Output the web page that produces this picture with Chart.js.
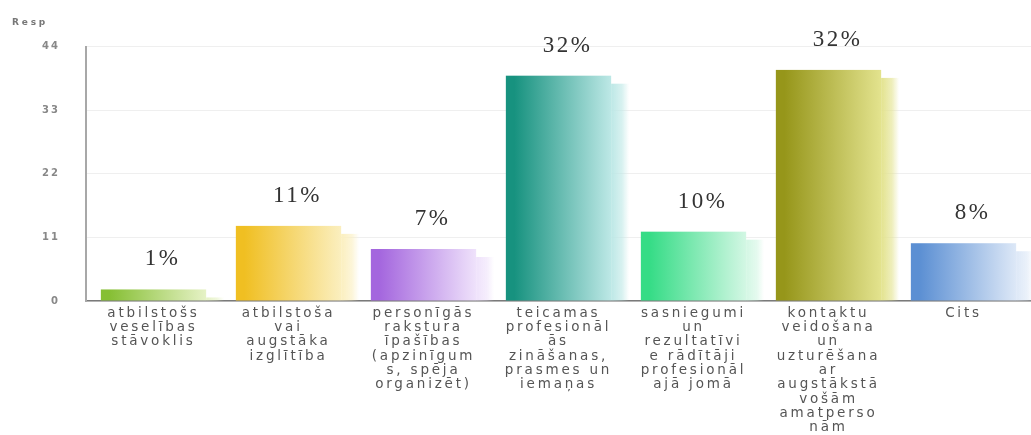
<!DOCTYPE html>
<html>
<head>
<meta charset="utf-8">
<script src="https://cdn.jsdelivr.net/npm/chart.js@4/dist/chart.umd.min.js"></script>
<style>
  html, body { margin: 0; padding: 0; background: #fff; }
  #wrap { width: 1031px; height: 435px; }
</style>
</head>
<body>
<div id="wrap"><canvas id="my-chart"></canvas></div>
<script>
// answers, one label per option (already split into lines)
const categories = [
    ['atbilstošs', 'veselības', 'stāvoklis'],
    ['atbilstoša', 'vai', 'augstāka', 'izglītība'],
    ['personīgās', 'rakstura', 'īpašības', '(apzinīgum', 's, spēja', 'organizēt)'],
    ['teicamas', 'profesionāl', 'ās', 'zināšanas,', 'prasmes un', 'iemaņas'],
    ['sasniegumi', 'un', 'rezultatīvi', 'e rādītāji', 'profesionāl', 'ajā jomā'],
    ['kontaktu', 'veidošana', 'un', 'uzturēšana', 'ar', 'augstākstā', 'vošām', 'amatperso', 'nām'],
    ['Cits']
];
// number of respondents per answer
const responses = [2, 13, 9, 39, 12, 40, 10];
// share written above each bar
const shares = ['1%', '11%', '7%', '32%', '10%', '32%', '8%'];
const yTicks = [0, 11, 22, 33, 44];

// left (dark) and right (light) colour of each bar face
const darkColors = ['#86bf34', '#f0bf22', '#a466de', '#17927f', '#35dc86', '#96961a', '#5b8fd3'];
const lightColors = ['#e6f2c6', '#fbefbf', '#efe2fb', '#bde8e6', '#d3f7e4', '#e3e38e', '#dde8f7'];

// spaced-out lettering for the category labels and title,
// tighter for the value axis (its labels are drawn in a later layer)
const spacing = {
    id: 'spacing',
    beforeDraw(chart) {
        chart.ctx.letterSpacing = '2.8px';
    },
    beforeDatasetsDraw(chart) {
        chart.ctx.letterSpacing = '0px';
    },
    afterDatasetsDraw(chart) {
        chart.ctx.letterSpacing = '2px';
    }
};

function rgba(hex, a) {
    const n = parseInt(hex.slice(1), 16);
    return 'rgba(' + (n >> 16) + ',' + ((n >> 8) & 255) + ',' + (n & 255) + ',' + a + ')';
}

// gradient bar faces with a soft fading side on the right
const glossBars = {
    id: 'glossBars',
    afterDatasetsDraw(chart) {
        const ctx = chart.ctx;
        const meta = chart.getDatasetMeta(0);
        ctx.save();
        meta.data.forEach((bar, i) => {
            const left = bar.x - bar.width / 2;
            const right = bar.x + bar.width / 2;
            const top = bar.y;
            const base = bar.base;

            // side shade
            const sideW = bar.width * 0.17;
            const sideTop = Math.min(top + 8, base);
            const sg = ctx.createLinearGradient(right, 0, right + sideW, 0);
            sg.addColorStop(0, rgba(lightColors[i], 1));
            sg.addColorStop(0.6, rgba(lightColors[i], 0.6));
            sg.addColorStop(1, rgba(lightColors[i], 0));
            ctx.fillStyle = sg;
            ctx.fillRect(right, sideTop, sideW, base - sideTop);

            // face
            const g = ctx.createLinearGradient(left, 0, right, 0);
            g.addColorStop(0, darkColors[i]);
            g.addColorStop(0.08, darkColors[i]);
            g.addColorStop(1, lightColors[i]);
            ctx.fillStyle = g;
            ctx.fillRect(left, top, right - left, base - top);
        });

        // share labels
        ctx.letterSpacing = '2.5px';
        ctx.font = '23px "Liberation Serif", "Times New Roman", serif';
        ctx.fillStyle = '#333';
        ctx.textAlign = 'center';
        ctx.textBaseline = 'middle';
        meta.data.forEach((bar, i) => {
            ctx.fillText(shares[i], bar.x + 9, bar.y - 30);
        });
        ctx.restore();
    }
};

const data = {
    labels: categories,
    datasets: [{
        label: 'Resp',
        data: responses,
        backgroundColor: 'rgba(0,0,0,0)',
        borderWidth: 0,
        categoryPercentage: 1,
        barPercentage: 0.78
    }]
};

const config = {
    type: 'bar',
    data: data,
    plugins: [glossBars, spacing],
    options: {
        responsive: true,
        maintainAspectRatio: false,
        animation: false,
        events: [],
        layout: { padding: { left: 12, right: 0, top: 0, bottom: 0 } },
        plugins: {
            legend: { display: false },
            tooltip: { enabled: false },
            title: {
                display: true,
                text: 'Resp',
                align: 'start',
                color: '#777',
                font: { family: 'DejaVu Sans', size: 9 },
                padding: { top: 17, bottom: 19 }
            }
        },
        scales: {
            x: {
                grid: { display: false, drawTicks: false },
                border: { display: true, color: '#7a7a7a', width: 1.5 },
                ticks: {
                    autoSkip: false,
                    maxRotation: 0,
                    minRotation: 0,
                    padding: 5,
                    color: '#555',
                    font: { family: 'DejaVu Sans', size: 13.5, lineHeight: 1.06 }
                },
                afterFit(scale) { scale.height = 134; }
            },
            y: {
                min: 0,
                max: 44,
                afterBuildTicks(scale) {
                    scale.ticks = yTicks.map(v => ({ value: v }));
                },
                grid: { color: '#efefef', lineWidth: 1, drawTicks: false },
                border: { display: true, color: '#a8a8a8', width: 2 },
                ticks: {
                    z: 1,
                    padding: 26,
                    color: '#888',
                    font: { family: 'DejaVu Sans', size: 10, weight: 'bold' }
                },
                afterFit(scale) { scale.width = 74; }
            }
        }
    }
};

const myChart = new Chart(document.getElementById('my-chart'), config);
</script>
</body>
</html>
